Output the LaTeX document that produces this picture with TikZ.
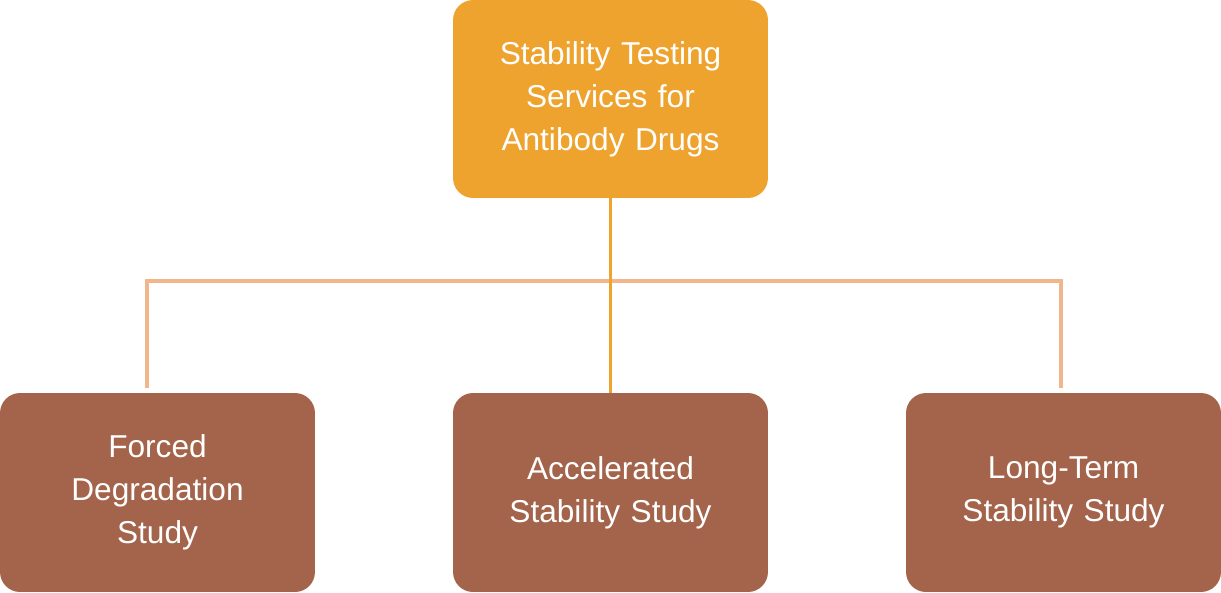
\documentclass[tikz,border=0pt]{standalone}
\usepackage{fontspec}
\setmainfont{Liberation Sans}
\usetikzlibrary{calc,positioning}
\definecolor{topfill}{HTML}{EEA32E}
\definecolor{subfill}{HTML}{A3644B}
\definecolor{branchline}{HTML}{F2B68C}

\begin{document}
\begin{tikzpicture}[x=0.02cm,y=-0.02cm]
\tikzset{mainbox/.style={rounded corners=0.4cm,minimum width=6.3cm,minimum height=3.96cm,
  text width=6cm,align=center,text=white,font=\fontsize{18}{24.5}\selectfont,inner sep=0pt}};
\tikzset{topbox/.style={mainbox,fill=topfill}};
\tikzset{subbox/.style={mainbox,fill=subfill,minimum height=3.98cm}};
\tikzset{branch/.style={line width=2.5pt,color=branchline}};

\useasboundingbox (0,0) rectangle (1221,592);

\node[topbox] (services) at (610.5,99) {Stability Testing\\Services for\\Antibody Drugs};
\node[subbox] (forced) at (157.5,492.5) {Forced\\Degradation\\Study};
\node[subbox] (accel) at (610.5,492.5) {Accelerated\\Stability Study};
\node[subbox] (longterm) at (1063.5,492.5) {Long-Term\\Stability Study};

\coordinate (forcedtop) at (147,388);
\coordinate (longtop) at (1061,388);
\coordinate (forcedbend) at (147,281);
\coordinate (longbend) at (1061,281);

\draw[branch] (forcedtop) -- (forcedbend) -- (longbend) -- (longtop);
\draw[line width=2pt,color=topfill] (services.south) -- (accel.north);
\end{tikzpicture}
\end{document}
